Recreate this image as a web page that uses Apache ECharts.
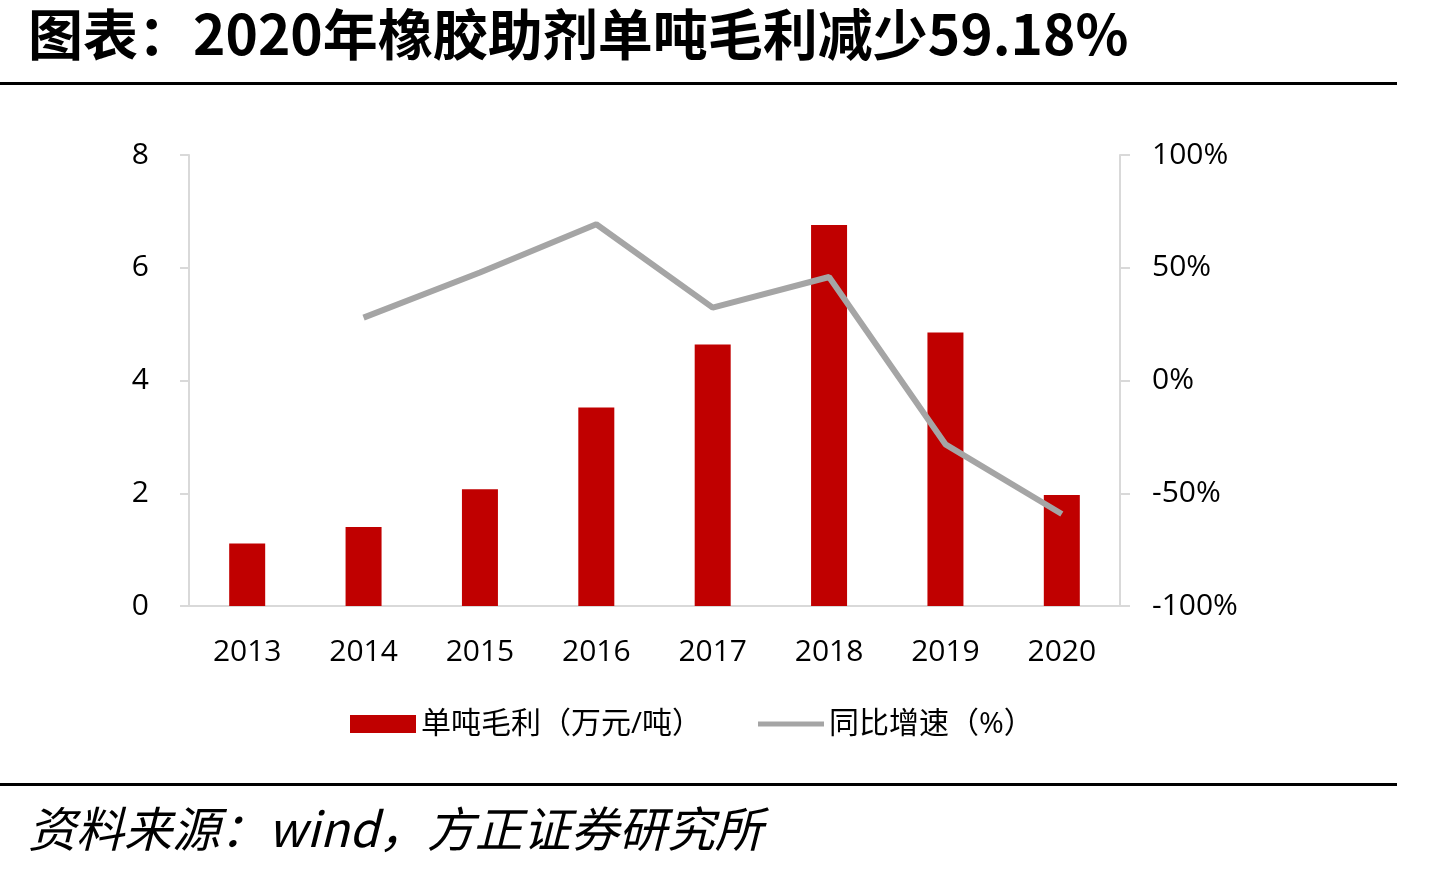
<!DOCTYPE html>
<html>
<head>
<meta charset="utf-8">
<title>2020年橡胶助剂单吨毛利减少59.18%</title>
<script src="https://cdn.jsdelivr.net/npm/echarts@6/dist/echarts.min.js"></script>
<style>
  html, body { margin: 0; padding: 0; background: #fff; }
  #chart { width: 1434px; height: 870px; }
</style>
</head>
<body>
<div id="chart"></div>
<script>
// 数据
var years = ['2013', '2014', '2015', '2016', '2017', '2018', '2019', '2020'];
var profitPerTon = [1.11, 1.40, 2.07, 3.52, 4.64, 6.76, 4.85, 1.97]; // 万元/吨
var yoyGrowth = [null, 27.9, 47.9, 69.3, 32.3, 45.9, -28.3, -59.18]; // %
var leftTicks = [0, 2, 4, 6, 8];
var rightTicks = [-100, -50, 0, 50, 100];

var labelFont = "'Open Sans', 'Noto Sans CJK SC', sans-serif";
var axisGray = '#D9D9D9';
var barName = '单吨毛利（万元/吨）';
var lineName = '同比增速（%）';

var chart = echarts.init(document.getElementById('chart'));

var option = {
  backgroundColor: '#fff',
  animation: false,
  graphic: [
    {
      type: 'text',
      left: 28,
      top: 7,
      style: {
        text: '图表：2020年橡胶助剂单吨毛利减少59.18%',
        font: "bold 55px 'Noto Sans CJK SC', sans-serif",
        fill: '#000'
      }
    },
    {
      type: 'rect',
      shape: { x: 0, y: 82, width: 1397, height: 3 },
      style: { fill: '#000' }
    },
    {
      type: 'rect',
      shape: { x: 0, y: 783, width: 1397, height: 3 },
      style: { fill: '#000' }
    },
    {
      type: 'text',
      left: 28,
      top: 805,
      style: {
        text: '资料来源：wind，方正证券研究所',
        font: "italic 48px 'Noto Sans CJK SC', sans-serif",
        fill: '#000'
      }
    }
  ],
  legend: {
    left: 345,
    top: 704,
    itemWidth: 66,
    itemHeight: 18,
    itemGap: 56,
    textStyle: { fontSize: 30, color: '#000', fontFamily: labelFont },
    data: [
      { name: barName, icon: 'rect' },
      {
        name: lineName,
        // 细灰线图标（首尾的空 moveTo 用来撑开高度）
        icon: 'path://M0,0M0,6.5L66,6.5L66,11.5L0,11.5ZM66,18',
        itemStyle: { color: '#A5A5A5' }
      }
    ]
  },
  grid: {
    left: 189,
    right: 314,
    top: 155,
    bottom: 264,
    containLabel: false
  },
  xAxis: {
    type: 'category',
    data: years,
    axisLine: { lineStyle: { color: axisGray, width: 2 } },
    axisTick: { show: false },
    axisLabel: { fontSize: 30, color: '#000', fontFamily: labelFont, margin: 31 }
  },
  yAxis: [
    {
      type: 'value',
      min: leftTicks[0],
      max: leftTicks[leftTicks.length - 1],
      interval: 2,
      splitLine: { show: false },
      axisLine: { show: true, lineStyle: { color: axisGray, width: 2 } },
      axisTick: { show: true, length: 9, lineStyle: { color: axisGray, width: 2 } },
      axisLabel: { fontSize: 30, color: '#000', fontFamily: labelFont, margin: 40 }
    },
    {
      type: 'value',
      min: rightTicks[0],
      max: rightTicks[rightTicks.length - 1],
      interval: 50,
      position: 'right',
      splitLine: { show: false },
      axisLine: { show: true, lineStyle: { color: axisGray, width: 2 } },
      axisTick: { show: true, length: 10, lineStyle: { color: axisGray, width: 2 } },
      axisLabel: {
        fontSize: 30, color: '#000', fontFamily: labelFont, margin: 32,
        formatter: '{value}%'
      }
    }
  ],
  series: [
    {
      name: barName,
      type: 'bar',
      data: profitPerTon,
      barWidth: 36,
      itemStyle: { color: '#C00000' }
    },
    {
      name: lineName,
      type: 'line',
      yAxisIndex: 1,
      data: yoyGrowth,
      symbol: 'none',
      lineStyle: { color: '#A5A5A5', width: 6 },
      itemStyle: { color: '#A5A5A5' }
    }
  ]
};

chart.setOption(option);
</script>
</body>
</html>
